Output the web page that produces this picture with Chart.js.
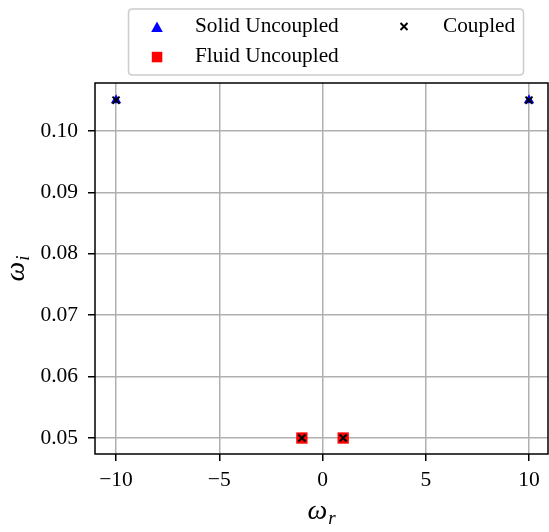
<!DOCTYPE html>
<html>
<head>
<meta charset="utf-8">
<script src="https://cdn.jsdelivr.net/npm/chart.js@4/dist/chart.umd.min.js"></script>
<style>
html,body{margin:0;padding:0;background:#fff;}
#wrap{width:549px;height:532px;position:relative;}
</style>
</head>
<body>
<div id="wrap"><canvas id="c" width="549" height="532"></canvas></div>
<script>
// ---- data ----
const solidR = [-10, 10];
const solidI = [0.105, 0.105];
const fluidR = [-1, 1];
const fluidI = [0.05, 0.05];
const coupledR = [-10, 10, -1, 1];
const coupledI = [0.105, 0.105, 0.05, 0.05];
const xTicks = [-10, -5, 0, 5, 10];
const yTicks = [0.05, 0.06, 0.07, 0.08, 0.09, 0.10];
const seriesNames = ['Solid Uncoupled', 'Fluid Uncoupled', 'Coupled'];
const xTitle = ['ω', 'r'];
const yTitle = ['ω', 'i'];

const toPts = (xs, ys) => xs.map((x, i) => ({x: x, y: ys[i]}));
const SERIF = "'Liberation Serif', 'DejaVu Serif', serif";

function drawSubLabel(ctx, parts) {
  ctx.font = 'italic 28px ' + SERIF;
  const w1 = ctx.measureText(parts[0]).width;
  ctx.font = 'italic 19px ' + SERIF;
  const w2 = ctx.measureText(parts[1]).width;
  const total = w1 + w2 + 1;
  let x = -total / 2;
  ctx.textAlign = 'left';
  ctx.textBaseline = 'alphabetic';
  ctx.font = 'italic 28px ' + SERIF;
  ctx.fillText(parts[0], x, 0);
  ctx.font = 'italic 19px ' + SERIF;
  ctx.fillText(parts[1], x + w1 + 1, 5);
}

const boxPlugin = {
  id: 'boxAndLegend',
  afterDraw(chart) {
    const ctx = chart.ctx;
    const a = chart.chartArea;
    ctx.save();
    ctx.strokeStyle = '#000';
    ctx.lineWidth = 1.5;
    ctx.strokeRect(a.left, a.top, a.right - a.left, a.bottom - a.top);

    // axis titles
    ctx.fillStyle = '#000';
    ctx.save();
    ctx.translate((a.left + a.right) / 2, 519);
    drawSubLabel(ctx, xTitle);
    ctx.restore();
    ctx.save();
    ctx.translate(24, (a.top + a.bottom) / 2);
    ctx.rotate(-Math.PI / 2);
    drawSubLabel(ctx, yTitle);
    ctx.restore();

    // legend box
    const lx = 128.5, ly = 9, lw = 395, lh = 66, r = 4;
    ctx.beginPath();
    ctx.moveTo(lx + r, ly);
    ctx.lineTo(lx + lw - r, ly);
    ctx.quadraticCurveTo(lx + lw, ly, lx + lw, ly + r);
    ctx.lineTo(lx + lw, ly + lh - r);
    ctx.quadraticCurveTo(lx + lw, ly + lh, lx + lw - r, ly + lh);
    ctx.lineTo(lx + r, ly + lh);
    ctx.quadraticCurveTo(lx, ly + lh, lx, ly + lh - r);
    ctx.lineTo(lx, ly + r);
    ctx.quadraticCurveTo(lx, ly, lx + r, ly);
    ctx.closePath();
    ctx.fillStyle = 'rgba(255,255,255,0.8)';
    ctx.fill();
    ctx.strokeStyle = '#cccccc';
    ctx.lineWidth = 1.5;
    ctx.stroke();
    // triangle
    ctx.fillStyle = '#0000ff';
    ctx.beginPath();
    ctx.moveTo(157, 21.5);
    ctx.lineTo(162.8, 32);
    ctx.lineTo(151.2, 32);
    ctx.closePath();
    ctx.fill();
    // square
    ctx.fillStyle = '#ff0000';
    ctx.fillRect(151.8, 51.8, 10.5, 10.5);
    // cross
    ctx.strokeStyle = '#000';
    ctx.lineWidth = 2;
    ctx.beginPath();
    ctx.moveTo(400.5, 23); ctx.lineTo(407.5, 30);
    ctx.moveTo(407.5, 23); ctx.lineTo(400.5, 30);
    ctx.stroke();
    // text
    ctx.fillStyle = '#000';
    ctx.font = '21.3px ' + SERIF;
    ctx.textBaseline = 'alphabetic';
    ctx.textAlign = 'left';
    ctx.fillText(seriesNames[0], 195, 32.3);
    ctx.fillText(seriesNames[1], 195, 62.3);
    ctx.fillText(seriesNames[2], 443, 32.3);
    ctx.restore();
  }
};

new Chart(document.getElementById('c'), {
  type: 'scatter',
  data: {
    datasets: [
      {
        label: seriesNames[0],
        data: toPts(solidR, solidI),
        pointStyle: 'triangle',
        pointRadius: 6,
        backgroundColor: '#0000ff',
        borderColor: '#0000ff',
        borderWidth: 0,
        order: 2
      },
      {
        label: seriesNames[1],
        data: toPts(fluidR, fluidI),
        pointStyle: 'rect',
        pointRadius: 8,
        backgroundColor: '#ff0000',
        borderColor: '#ff0000',
        borderWidth: 0,
        order: 2
      },
      {
        label: seriesNames[2],
        data: toPts(coupledR, coupledI),
        pointStyle: 'crossRot',
        pointRadius: 5,
        backgroundColor: '#000',
        borderColor: '#000',
        borderWidth: 2,
        order: 0
      }
    ]
  },
  options: {
    responsive: false,
    animation: false,
    devicePixelRatio: 1,
    layout: { autoPadding: false, padding: { top: 83, right: 1, left: 0, bottom: 0 } },
    plugins: {
      legend: { display: false },
      tooltip: { enabled: false }
    },
    scales: {
      x: {
        type: 'linear',
        min: -11.02,
        max: 10.92,
        afterFit(s) { s.height = 78; s.paddingLeft = 0; s.paddingRight = 0; },
        afterBuildTicks(s) { s.ticks = xTicks.map(v => ({value: v})); },
        grid: { color: '#b0b0b0', lineWidth: 1.5, tickColor: '#000', tickLength: 7, tickWidth: 1.5 },
        border: { display: false },
        ticks: {
          color: '#000',
          font: { family: SERIF, size: 21.5 },
          padding: 6,
          maxRotation: 0,
          callback: v => (v < 0 ? '\u2212' + Math.abs(v) : String(v))
        },
        title: { display: false }
      },
      y: {
        type: 'linear',
        min: 0.0474,
        max: 0.1078,
        afterFit(s) { s.width = 95; s.paddingTop = 0; s.paddingBottom = 0; },
        afterBuildTicks(s) { s.ticks = yTicks.map(v => ({value: v})); },
        grid: { color: '#b0b0b0', lineWidth: 1.5, tickColor: '#000', tickLength: 7, tickWidth: 1.5 },
        border: { display: false },
        ticks: {
          color: '#000',
          font: { family: SERIF, size: 21.5 },
          padding: 10,
          callback: v => v.toFixed(2)
        },
        title: { display: false }
      }
    }
  },
  plugins: [boxPlugin]
});
</script>
</body>
</html>
